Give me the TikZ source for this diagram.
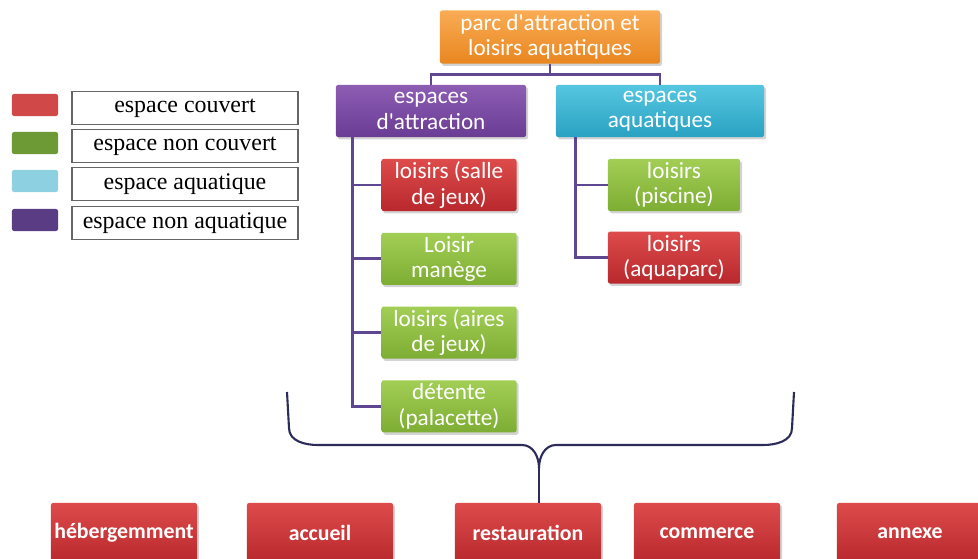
\documentclass[tikz,border=0pt]{standalone}
\usepackage{fontspec}
\setmainfont{Liberation Serif}
\newfontfamily\boxfont{Carlito}
\usetikzlibrary{positioning,shadows}

\definecolor{orTop}{HTML}{F9AC55}
\definecolor{orBot}{HTML}{E9861F}
\definecolor{puTop}{HTML}{8D5DB4}
\definecolor{puBot}{HTML}{6A3C93}
\definecolor{cyTop}{HTML}{55C6E0}
\definecolor{cyBot}{HTML}{2AA2C2}
\definecolor{reTop}{HTML}{DD4B4B}
\definecolor{reBot}{HTML}{B8282C}
\definecolor{grTop}{HTML}{A2CE55}
\definecolor{grBot}{HTML}{7EAD33}
\definecolor{linkc}{HTML}{5E4690}
\definecolor{bracec}{HTML}{2C2B5A}
\definecolor{legRed}{HTML}{D04848}
\definecolor{legGreen}{HTML}{6E9A35}
\definecolor{legCyan}{HTML}{8DD0E2}
\definecolor{legPurple}{HTML}{5A3C85}

\tikzset{
  box/.style={rounded corners=1.5pt, align=center, text=white, inner sep=1pt,
    font=\boxfont\fontsize{16.5}{18}\selectfont,
    drop shadow={opacity=.35, shadow xshift=.05cm, shadow yshift=-.06cm}},
  orangebox/.style={box, top color=orTop, bottom color=orBot},
  purplebox/.style={box, top color=puTop, bottom color=puBot},
  cyanbox/.style={box, top color=cyTop, bottom color=cyBot},
  redbox/.style={box, top color=reTop, bottom color=reBot},
  greenbox/.style={box, top color=grTop, bottom color=grBot},
  leaf/.style={minimum width=3.375cm, minimum height=1.3cm},
  bottombox/.style={redbox, minimum width=3.65cm, minimum height=1.5cm,
    font=\boxfont\bfseries\fontsize{15.5}{17}\selectfont},
  link/.style={draw=linkc, line width=2pt},
  bracket/.style={draw=bracec, line width=1.5pt},
  legbox/.style={draw=black!60, line width=.9pt, fill=white, minimum width=5.65cm,
    minimum height=.83cm, font=\fontsize{17}{19}\selectfont},
  swatch/.style={rounded corners=1.5pt, minimum width=1.15cm, minimum height=.55cm}
}

\begin{document}
\begin{tikzpicture}[x=0.025cm, y=-0.025cm]
\useasboundingbox (0,0) rectangle (978,558);
\clip (0,0) rectangle (978,558);

\foreach \i/\c/\t/\y in {1/legRed/espace couvert/108, 2/legGreen/espace non couvert/146,
                        3/legCyan/espace aquatique/184, 4/legPurple/espace non aquatique/223}
	{\node[legbox](leg\i) at (185,\y) {\t};
	\node[swatch, fill=\c](sw\i) at (35,\y-3) {};}

\node[orangebox, minimum width=5.5cm, minimum height=1.325cm](parc) at (550,37) {parc d'attraction et\\loisirs aquatiques};
\node[purplebox, minimum width=4.75cm, minimum height=1.3cm](attr) at (431,111) {espaces\\d'attraction};
\node[cyanbox, minimum width=5.2cm, minimum height=1.3cm](aqua) at (660,111) {espaces\\aquatiques};

\node[redbox, leaf](salle) at (449,185) {loisirs (salle\\de jeux)};
\node[greenbox, leaf, below =0.53cm of salle](manege) {Loisir\\manège};
\node[greenbox, leaf, below =0.53cm of manege](aires) {loisirs (aires\\de jeux)};
\node[greenbox, leaf, below =0.53cm of aires](detente) {détente\\(palacette)};

\node[greenbox, leaf, minimum width=3.3cm](piscine) at (674,185) {loisirs\\(piscine)};
\node[redbox, leaf, minimum width=3.3cm, below =0.5cm of piscine](aquaparc) {loisirs\\(aquaparc)};

\draw[link] (parc.south) -- ++(0,11) -| (attr.north);
\draw[link] (parc.south) -- ++(0,11) -| (aqua.north);
\foreach \n in {salle,manege,aires,detente}
	\draw[link] ([xshift=0.425cm]attr.south west) |- (\n.west);
\foreach \n in {piscine,aquaparc}
	\draw[link] ([xshift=0.5cm]aqua.south west) |- (\n.west);

\node[bottombox](heberg) at (124,533) {hébergemment};
\node[bottombox](accueil) at (320,533) {accueil};
\node[bottombox](resto) at (528,533) {restauration};
\node[bottombox](commerce) at (707,533) {commerce};
\node[bottombox](annexe) at (910,533) {annexe};

\coordinate(bl) at (287,392);
\coordinate(br) at (794,392);
\coordinate(cusp) at (539,468);
\draw[bracket] (bl) -- (289,428) to[out=-90,in=180] (318,445) -- (522,445) to[out=0,in=90] (cusp);
\draw[bracket] (br) -- (792,428) to[out=-90,in=0] (763,445) -- (556,445) to[out=180,in=90] (cusp);
\draw[bracket] (cusp) -- (cusp |- resto.north);
\end{tikzpicture}
\end{document}
